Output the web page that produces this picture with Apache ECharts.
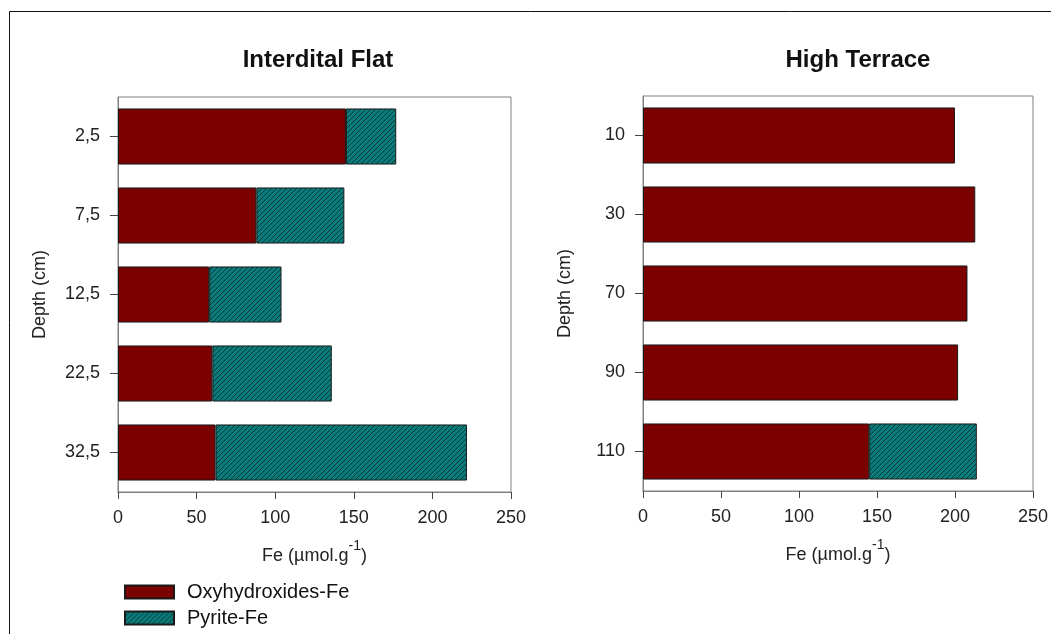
<!DOCTYPE html>
<html>
<head>
<meta charset="utf-8">
<script src="https://cdn.jsdelivr.net/npm/echarts@6/dist/echarts.min.js"></script>
<style>
html,body{margin:0;padding:0;background:#fff;}
#c{width:1051px;height:634px;}
</style>
</head>
<body>
<div id="c"></div>
<script>
// ---- data ----
const catLeft = ['2,5', '7,5', '12,5', '22,5', '32,5'];
const oxyLeft = [145, 88, 58, 60, 62];
const pyrLeft = [32, 56, 46, 76, 160];
const catRight = ['10', '30', '70', '90', '110'];
const oxyRight = [200, 213, 208, 202, 145];
const pyrRight = [null, null, null, null, 69];
const xTicks = [0, 50, 100, 150, 200, 250];
const titles = ['Interdital Flat', 'High Terrace'];
const seriesNames = ['Oxyhydroxides-Fe', 'Pyrite-Fe'];

// hatch pattern
function makeHatch() {
  const s = 5;
  const cv = document.createElement('canvas');
  cv.width = s; cv.height = s;
  const ctx = cv.getContext('2d');
  ctx.fillStyle = '#0a7c7c';
  ctx.fillRect(0, 0, s, s);
  ctx.strokeStyle = '#0c3a3a';
  ctx.lineWidth = 1;
  ctx.beginPath();
  ctx.moveTo(0, s); ctx.lineTo(s, 0);
  ctx.moveTo(-1, 1); ctx.lineTo(1, -1);
  ctx.moveTo(s - 1, s + 1); ctx.lineTo(s + 1, s - 1);
  ctx.stroke();
  return cv;
}
const hatch = { image: makeHatch(), repeat: 'repeat' };

const FONT = "'Liberation Sans', Arial, sans-serif";
const axisGray = '#808080';
const txt = '#222';

const chart = echarts.init(document.getElementById('c'), null, { renderer: 'canvas' });

function xAxis(gi) {
  return {
    type: 'value', gridIndex: gi, min: 0, max: 250, interval: 50,
    name: '{a|Fe (µmol.g}{s|-1}{a|)}',
    nameLocation: 'middle', nameGap: 47,
    nameTextStyle: {
      fontFamily: FONT, color: txt,
      rich: {
        a: { fontFamily: FONT, fontSize: 18, color: txt, lineHeight: 26, verticalAlign: 'bottom' },
        s: { fontFamily: FONT, fontSize: 14, color: txt, lineHeight: 26, verticalAlign: 'top' }
      }
    },
    axisLine: { show: true, lineStyle: { color: axisGray, width: 1 } },
    axisTick: { show: true, length: 7, lineStyle: { color: '#444' } },
    axisLabel: { fontFamily: FONT, fontSize: 18, color: txt, margin: 17,
      formatter: v => xTicks.includes(v) ? String(v) : '' },
    splitLine: { show: false }
  };
}
function yAxis(gi, cats) {
  return {
    type: 'category', gridIndex: gi, data: cats, inverse: true,
    name: 'Depth (cm)', nameLocation: 'middle', nameGap: 69,
    nameTextStyle: { fontFamily: FONT, fontSize: 18, color: txt },
    axisLine: { show: true, lineStyle: { color: axisGray, width: 1 } },
    axisTick: { show: true, alignWithLabel: true, length: 8, lineStyle: { color: '#444' } },
    axisLabel: { fontFamily: FONT, fontSize: 18, color: txt, margin: 18 },
    splitLine: { show: false }
  };
}
function bar(name, gi, data, color) {
  return {
    name, type: 'bar', xAxisIndex: gi, yAxisIndex: gi, stack: 's' + gi,
    data, barCategoryGap: '29%',
    itemStyle: { color, borderColor: '#1a1a1a', borderWidth: 1 },
    emphasis: { disabled: true }, animation: false
  };
}
function legend(i, top) {
  return {
    orient: 'vertical', left: 124, top, padding: 0, itemWidth: 49, itemHeight: 13,
    icon: 'rect', data: [seriesNames[i]], selectedMode: false,
    textStyle: { fontFamily: FONT, fontSize: 20, color: '#111', lineHeight: 22, padding: [0, 0, 0, 8] }
  };
}

chart.setOption({
  animation: false,
  backgroundColor: '#fff',
  title: [
    { text: titles[0], left: 313, top: 43, textAlign: 'center',
      textStyle: { fontFamily: FONT, fontSize: 24, fontWeight: 'bold', color: '#111' } },
    { text: titles[1], left: 853, top: 43, textAlign: 'center',
      textStyle: { fontFamily: FONT, fontSize: 24, fontWeight: 'bold', color: '#111' } }
  ],
  legend: [legend(0, 581), legend(1, 607)],
  grid: [
    { left: 118, top: 97, width: 393, height: 395, show: true, borderColor: axisGray, borderWidth: 1, containLabel: false },
    { left: 643, top: 96, width: 394, height: 395, show: true, borderColor: axisGray, borderWidth: 1, containLabel: false }
  ],
  xAxis: [xAxis(0), xAxis(1)],
  yAxis: [yAxis(0, catLeft), yAxis(1, catRight)],
  series: [
    bar(seriesNames[0], 0, oxyLeft, '#7b0000'),
    bar(seriesNames[1], 0, pyrLeft, hatch),
    bar(seriesNames[0], 1, oxyRight, '#7b0000'),
    bar(seriesNames[1], 1, pyrRight, hatch)
  ],
  graphic: [
    { type: 'polyline', silent: true,
      shape: { points: [[9.5, 634], [9.5, 11.5], [1051, 11.5]] },
      style: { stroke: '#111', lineWidth: 1, fill: null } }
  ]
});
</script>
</body>
</html>
